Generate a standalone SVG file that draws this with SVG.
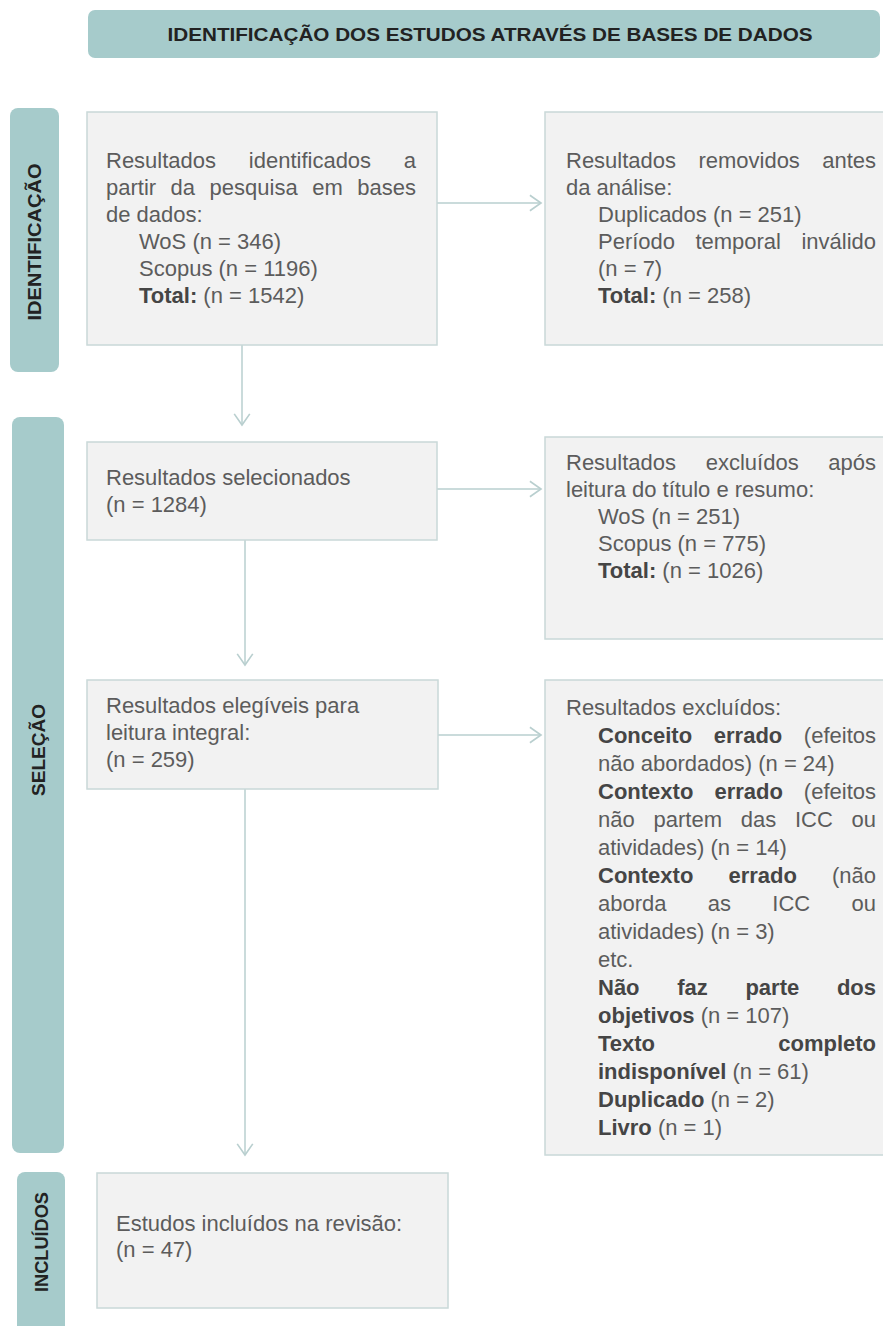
<svg xmlns="http://www.w3.org/2000/svg" width="883" height="1326" viewBox="0 0 883 1326">
<defs>
<style>
.bar{fill:#a6cbcb}
.hdr{font-family:"Liberation Sans",Arial,sans-serif;font-weight:bold;fill:#222;font-size:18px}
.side{font-family:"Liberation Sans",Arial,sans-serif;font-weight:bold;fill:#222;font-size:19px}
.box{fill:#f2f2f2;stroke:#c9d8d8;stroke-width:1.5}
.t{font-family:"Liberation Sans",Arial,sans-serif;font-size:22px;fill:#5c5c5c}
.b{font-weight:bold;fill:#454545}
.con{fill:none;stroke:#b9cfcf;stroke-width:1.5}
</style>
<marker id="ah" markerUnits="userSpaceOnUse" markerWidth="20" markerHeight="20" viewBox="-12 -9 14 18" refX="0" refY="0" orient="auto">
<path d="M-10,-7 L0,0 L-10,7" fill="none" stroke="#b9cfcf" stroke-width="1.5"/>
</marker>
</defs>
<rect width="883" height="1326" fill="#ffffff"/>

<g id="header">
<rect class="bar" x="88" y="10" width="792" height="48" rx="7"/>
<text class="hdr" x="490" y="41" text-anchor="middle" textLength="645" lengthAdjust="spacingAndGlyphs">IDENTIFICAÇÃO DOS ESTUDOS ATRAVÉS DE BASES DE DADOS</text>
</g>

<g id="lane-identificacao">
<rect class="bar" x="10" y="108" width="49" height="264" rx="8"/>
<text class="side" transform="translate(41,242) rotate(-90)" text-anchor="middle" textLength="157" lengthAdjust="spacingAndGlyphs">IDENTIFICAÇÃO</text>
</g>
<g id="lane-selecao">
<rect class="bar" x="12" y="417" width="52" height="736" rx="8"/>
<text class="side" transform="translate(45,750) rotate(-90)" text-anchor="middle">SELEÇÃO</text>
</g>
<g id="lane-incluidos">
<rect class="bar" x="17" y="1172" width="48" height="170" rx="8"/>
<text class="side" transform="translate(48,1242) rotate(-90)" text-anchor="middle" textLength="100" lengthAdjust="spacingAndGlyphs">INCLUÍDOS</text>
</g>

<g id="connectors">
<line class="con" x1="437" y1="203" x2="541" y2="203" marker-end="url(#ah)"/>
<line class="con" x1="437" y1="489" x2="541" y2="489" marker-end="url(#ah)"/>
<line class="con" x1="438" y1="735" x2="541" y2="735" marker-end="url(#ah)"/>
<line class="con" x1="242" y1="345" x2="242" y2="425" marker-end="url(#ah)"/>
<line class="con" x1="245" y1="540" x2="245" y2="665" marker-end="url(#ah)"/>
<line class="con" x1="245" y1="789" x2="245" y2="1155" marker-end="url(#ah)"/>
</g>

<g id="box-identificados">
<rect class="box" x="87" y="112" width="350" height="233"/>
<text class="t" y="168"><tspan x="106">Resultados</tspan><tspan x="248.8">identificados</tspan><tspan x="416" text-anchor="end">a</tspan></text>
<text class="t" y="195"><tspan x="106">partir</tspan><tspan x="170.6">da</tspan><tspan x="209.6">pesquisa</tspan><tspan x="312.2">em</tspan><tspan x="416" text-anchor="end">bases</tspan></text>
<text class="t" x="106" y="222">de dados:</text>
<text class="t" x="139" y="249">WoS (n = 346)</text>
<text class="t" x="139" y="276">Scopus (n = 1196)</text>
<text class="t" x="139" y="303"><tspan class="b">Total:</tspan> (n = 1542)</text>
</g>

<g id="box-removidos">
<rect class="box" x="545" y="112" width="360" height="233"/>
<text class="t" y="168"><tspan x="566">Resultados</tspan><tspan x="698.4">removidos</tspan><tspan x="876" text-anchor="end">antes</tspan></text>
<text class="t" x="566" y="195">da análise:</text>
<text class="t" x="598" y="222">Duplicados (n = 251)</text>
<text class="t" y="249"><tspan x="598">Período</tspan><tspan x="695.4">temporal</tspan><tspan x="876" text-anchor="end">inválido</tspan></text>
<text class="t" x="598" y="276">(n = 7)</text>
<text class="t" x="598" y="303"><tspan class="b">Total:</tspan> (n = 258)</text>
</g>

<g id="box-selecionados">
<rect class="box" x="87" y="442" width="350" height="98"/>
<text class="t" x="106" y="485">Resultados selecionados</text>
<text class="t" x="106" y="512">(n = 1284)</text>
</g>

<g id="box-excluidos-titulo">
<rect class="box" x="545" y="437" width="360" height="202"/>
<text class="t" y="470"><tspan x="566">Resultados</tspan><tspan x="705.7">excluídos</tspan><tspan x="876" text-anchor="end">após</tspan></text>
<text class="t" x="566" y="497">leitura do título e resumo:</text>
<text class="t" x="598" y="524">WoS (n = 251)</text>
<text class="t" x="598" y="551">Scopus (n = 775)</text>
<text class="t" x="598" y="578"><tspan class="b">Total:</tspan> (n = 1026)</text>
</g>

<g id="box-elegiveis">
<rect class="box" x="87" y="680" width="351" height="109"/>
<text class="t" x="106" y="713">Resultados elegíveis para</text>
<text class="t" x="106" y="740">leitura integral:</text>
<text class="t" x="106" y="767">(n = 259)</text>
</g>

<g id="box-excluidos">
<rect class="box" x="545" y="680" width="360" height="475"/>
<text class="t" x="566" y="715">Resultados excluídos:</text>
<text class="t" y="743"><tspan x="598" class="b">Conceito</tspan><tspan x="713.8" class="b">errado</tspan><tspan x="876" text-anchor="end">(efeitos</tspan></text>
<text class="t" x="598" y="771">não abordados) (n = 24)</text>
<text class="t" y="799"><tspan x="598" class="b">Contexto</tspan><tspan x="714.4" class="b">errado</tspan><tspan x="876" text-anchor="end">(efeitos</tspan></text>
<text class="t" y="827"><tspan x="598">não</tspan><tspan x="653.5">partem</tspan><tspan x="740.7">das</tspan><tspan x="794.9">ICC</tspan><tspan x="876" text-anchor="end">ou</tspan></text>
<text class="t" x="598" y="855">atividades) (n = 14)</text>
<text class="t" y="883"><tspan x="598" class="b">Contexto</tspan><tspan x="728.4" class="b">errado</tspan><tspan x="876" text-anchor="end">(não</tspan></text>
<text class="t" y="911"><tspan x="598">aborda</tspan><tspan x="707.8">as</tspan><tspan x="772.3">ICC</tspan><tspan x="876" text-anchor="end">ou</tspan></text>
<text class="t" x="598" y="939">atividades) (n = 3)</text>
<text class="t" x="598" y="967">etc.</text>
<text class="t b" y="995"><tspan x="598">Não</tspan><tspan x="677.2">faz</tspan><tspan x="745.4">parte</tspan><tspan x="876" text-anchor="end">dos</tspan></text>
<text class="t" x="598" y="1023"><tspan class="b">objetivos</tspan> (n = 107)</text>
<text class="t b" y="1051"><tspan x="598">Texto</tspan><tspan x="876" text-anchor="end">completo</tspan></text>
<text class="t" x="598" y="1079"><tspan class="b">indisponível</tspan> (n = 61)</text>
<text class="t" x="598" y="1107"><tspan class="b">Duplicado</tspan> (n = 2)</text>
<text class="t" x="598" y="1135"><tspan class="b">Livro</tspan> (n = 1)</text>
</g>

<g id="box-incluidos">
<rect class="box" x="97" y="1173" width="351" height="135"/>
<text class="t" x="116" y="1231">Estudos incluídos na revisão:</text>
<text class="t" x="116" y="1257">(n = 47)</text>
</g>
</svg>
